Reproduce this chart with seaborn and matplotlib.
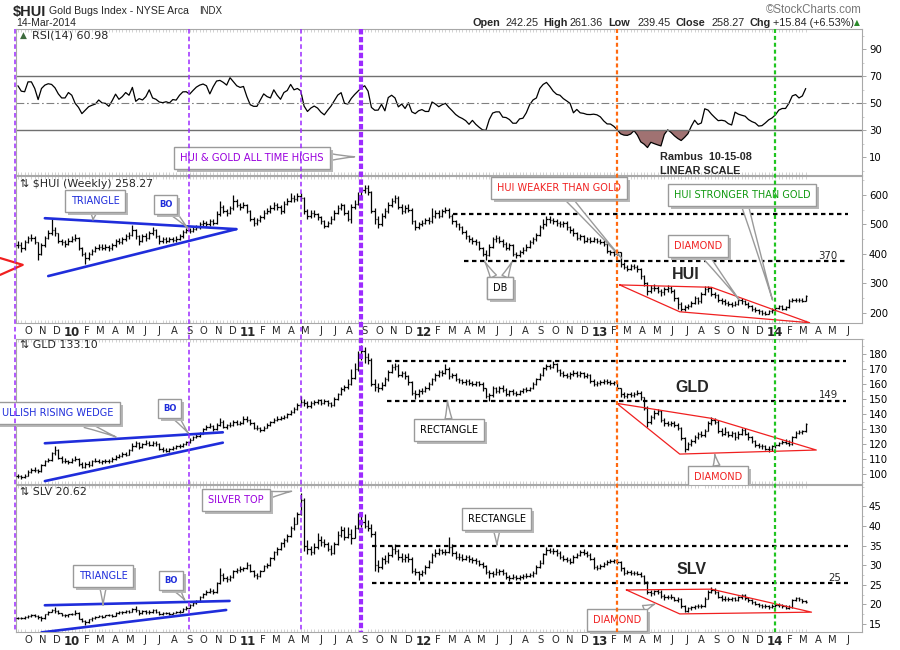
import datetime as dt

import matplotlib
matplotlib.use("Agg")
import matplotlib.dates as mdates
import matplotlib.patheffects as pe
import matplotlib.pyplot as plt
import numpy as np
import pandas as pd
import seaborn as sns
from matplotlib.lines import Line2D
from matplotlib.ticker import AutoMinorLocator, FixedLocator, MultipleLocator
from matplotlib.transforms import blended_transform_factory

sns.set_theme(style="white")
plt.rcParams["font.family"] = ["Liberation Sans", "DejaVu Sans"]

# weekly bars (Friday)
WEEKS = pd.date_range("2009-09-18", periods=235, freq="7D")

HUI_CLOSE = [
    430, 420, 440, 455, 455, 440, 400, 430, 455, 470,
    480, 470, 445, 440, 435, 445, 450, 455, 420, 400,
    385, 400, 410, 420, 425, 420, 425, 420, 430, 445,
    440, 450, 460, 465, 480, 460, 445, 460, 455, 470,
    480, 460, 445, 450, 445, 450, 448, 452, 460, 475,
    480, 478, 485, 490, 500, 505, 500, 510, 505, 535,
    560, 545, 540, 555, 580, 565, 560, 565, 545, 520,
    505, 515, 525, 540, 545, 555, 565, 560, 545, 570,
    580, 590, 585, 595, 590, 545, 530, 540, 535, 525,
    510, 495, 505, 520, 540, 555, 565, 540, 520, 560,
    570, 600, 615, 625, 610, 545, 520, 500, 530, 545,
    565, 580, 590, 560, 545, 555, 550, 510, 490, 500,
    505, 515, 510, 530, 540, 530, 545, 550, 530, 510,
    500, 490, 475, 460, 450, 445, 440, 420, 400, 395,
    425, 450, 455, 445, 435, 420, 430, 400, 395, 405,
    415, 425, 440, 450, 465, 490, 500, 520, 515, 510,
    505, 500, 505, 490, 480, 470, 455, 460, 445, 450,
    445, 450, 445, 440, 435, 410, 405, 400, 405, 365,
    355, 350, 360, 355, 350, 325, 300, 275, 285, 285,
    275, 270, 280, 285, 275, 250, 230, 215, 220, 225,
    235, 250, 240, 265, 280, 285, 265, 260, 245, 240,
    235, 230, 228, 232, 245, 240, 232, 225, 215, 210,
    205, 200, 198, 205, 210, 218, 222, 215, 220, 240,
    245, 243, 245, 242, 258.27,
]
HUI_HIGH = [
    445, 440, 448, 462, 468, 460, 442, 438, 462, 480,
    517, 492, 472, 452, 448, 455, 462, 468, 458, 425,
    405, 408, 418, 428, 435, 432, 434, 430, 438, 452,
    455, 458, 468, 475, 498, 485, 465, 468, 470, 478,
    492, 484, 465, 458, 456, 458, 456, 460, 466, 482,
    488, 488, 492, 498, 508, 515, 512, 520, 518, 545,
    580, 565, 552, 562, 600, 585, 572, 575, 570, 550,
    525, 522, 532, 548, 556, 565, 575, 572, 566, 578,
    590, 607, 598, 605, 605, 592, 552, 550, 548, 540,
    530, 515, 512, 528, 548, 565, 572, 570, 548, 568,
    582, 610, 625, 634, 632, 612, 555, 528, 538, 555,
    575, 590, 600, 595, 568, 565, 568, 555, 515, 508,
    515, 522, 525, 555, 548, 548, 552, 560, 555, 535,
    515, 505, 495, 480, 465, 458, 452, 445, 425, 412,
    432, 458, 465, 462, 450, 440, 438, 432, 408, 412,
    422, 432, 448, 458, 472, 498, 520, 530, 528, 522,
    518, 512, 512, 510, 495, 488, 475, 468, 465, 458,
    456, 456, 455, 452, 448, 440, 415, 412, 412, 408,
    372, 362, 366, 365, 362, 352, 330, 305, 295, 298,
    292, 282, 288, 295, 290, 280, 255, 236, 228, 232,
    242, 256, 255, 270, 290, 292, 288, 272, 265, 252,
    246, 242, 238, 240, 252, 250, 245, 236, 228, 220,
    214, 210, 206, 210, 216, 224, 228, 226, 225, 246,
    252, 250, 252, 250, 261.36,
]
HUI_LOW = [
    420, 408, 415, 436, 445, 432, 380, 398, 425, 450,
    465, 462, 438, 430, 425, 430, 440, 445, 412, 392,
    365, 378, 395, 405, 412, 412, 415, 410, 415, 425,
    432, 435, 445, 452, 460, 452, 430, 440, 445, 450,
    465, 455, 435, 438, 438, 440, 440, 442, 448, 455,
    470, 470, 474, 480, 485, 495, 492, 495, 498, 500,
    530, 538, 530, 535, 550, 558, 550, 555, 538, 512,
    495, 498, 508, 518, 535, 540, 550, 548, 535, 540,
    565, 575, 575, 580, 580, 535, 520, 522, 525, 515,
    500, 488, 490, 500, 515, 535, 550, 532, 512, 505,
    552, 565, 595, 605, 600, 538, 500, 488, 495, 522,
    540, 560, 572, 552, 535, 540, 542, 502, 480, 485,
    495, 500, 502, 505, 522, 522, 525, 540, 522, 502,
    492, 482, 468, 452, 442, 435, 430, 412, 392, 380,
    392, 420, 440, 436, 425, 412, 415, 392, 385, 390,
    400, 410, 420, 435, 445, 462, 485, 495, 505, 502,
    495, 490, 492, 482, 470, 462, 448, 448, 438, 440,
    438, 440, 436, 432, 428, 402, 398, 392, 395, 355,
    348, 342, 345, 348, 340, 315, 292, 262, 268, 275,
    268, 258, 262, 272, 268, 242, 215, 208, 208, 212,
    220, 230, 232, 235, 260, 272, 258, 252, 238, 232,
    228, 222, 220, 222, 228, 232, 226, 218, 208, 204,
    198, 194, 192, 195, 200, 206, 212, 210, 210, 218,
    236, 236, 238, 236, 239.45,
]

GLD_CLOSE = [
    98.5, 98, 99, 101.5, 103, 102.5, 102, 106, 108.5, 109.5,
    114, 116, 111, 109, 108.5, 108, 109.5, 110, 106.5, 105,
    107, 106, 108.5, 109, 108, 108.5, 109, 108.5, 110, 111.5,
    112, 113.5, 113, 116, 119, 120.5, 118, 120, 121, 119.5,
    121, 120, 117, 116, 115.5, 116.5, 117.5, 118.5, 119, 120,
    121.5, 123, 124.5, 125.5, 127, 130, 131.5, 132, 130, 133,
    134.5, 131.5, 132.5, 133, 135, 133.5, 134, 137, 136, 134,
    131, 130.5, 129.5, 131, 133, 134.5, 136, 137, 137.5, 138,
    140, 141.5, 143.5, 146, 148, 147, 145, 147.5, 148, 149,
    147.5, 148.5, 147, 146, 150, 153, 156.5, 158, 160, 164,
    170, 179, 182, 178, 176, 160, 158, 157, 159.5, 163,
    168, 171, 172, 166, 167, 165, 161, 154, 153, 155,
    155.5, 157, 160, 163, 166, 168, 167.5, 170, 165, 166,
    163, 162.5, 161, 162, 160.5, 160, 161, 160, 157, 152,
    152.5, 157, 155, 157.5, 156, 153, 155, 154, 153.5, 155,
    156.5, 156, 157, 160, 163, 166, 170.5, 172, 171.5, 173,
    169, 167, 166, 165, 166.5, 167.5, 166, 167, 165.5, 166,
    162, 160, 160.5, 161, 162, 161.5, 160.5, 161, 157, 153,
    152, 153, 152.5, 153.5, 154, 151, 144, 135, 138, 141,
    142, 136, 134, 133.5, 134, 133, 131, 124, 117, 120,
    122, 124.5, 127, 126, 129, 134, 136, 135, 128.5, 127,
    128, 126, 127.5, 124.5, 127, 129.5, 127, 124.5, 122, 119.5,
    119, 118.5, 117, 116.5, 118.5, 119.5, 120.5, 121.5, 121, 120,
    124.5, 127.5, 128, 128.5, 133.1,
]
GLD_HIGH = [
    99.8, 99.5, 100.2, 102.5, 104.2, 104.5, 103.6, 106.8, 109.5, 111,
    115, 118.5, 117, 112.2, 110.5, 109.6, 110.4, 111.8, 111, 107.8,
    107.8, 108.5, 109.4, 110.5, 110.2, 109.4, 110.3, 110, 111.2, 112.5,
    113.4, 114.5, 114.8, 117, 120.5, 121.8, 121.5, 121, 122.4, 122,
    122.3, 122, 120.6, 118, 117.2, 117.6, 118.5, 119.5, 120.2, 121,
    122.3, 124, 125.5, 126.6, 128, 131, 132.8, 134, 133, 134,
    137.6, 136, 133.6, 134.4, 136.2, 136, 135.4, 139, 138.4, 137,
    134.8, 132.4, 131.6, 132.2, 134, 135.6, 137.2, 138.4, 138.8, 139.4,
    141, 142.6, 144.5, 147, 152, 150, 148.4, 148.6, 149.4, 150.2,
    150, 149.8, 149.4, 148.2, 151, 154.2, 157.8, 159.4, 163, 170,
    174, 182, 186, 184.5, 180.5, 177, 163, 160.4, 161, 164.5,
    169.4, 173.6, 174, 173, 168.6, 168.4, 166, 162, 155.8, 156.4,
    157, 158.4, 161.2, 164, 167.4, 169.6, 169.4, 173.5, 171, 167.6,
    167, 164.2, 163.6, 163.4, 163, 161.8, 162.2, 162, 161, 157.6,
    154, 158.4, 158.2, 158.6, 159, 157, 156.2, 156.4, 155.2, 156,
    157.6, 157.8, 158.2, 161, 164.2, 167, 171.6, 173.4, 173.6, 175,
    174, 170.2, 168.4, 167.4, 167.8, 169, 168.6, 168.4, 168.2, 167.4,
    166.8, 163.4, 161.8, 162.4, 163.2, 163.4, 162.6, 162.2, 161.6, 157.4,
    154.4, 154.2, 154.4, 154.8, 155.8, 155.4, 151.6, 145, 139.6, 142.4,
    143.6, 142.8, 137.2, 135.6, 135.6, 135.2, 134, 131.6, 124.8, 121.2,
    123.2, 125.8, 128, 128.4, 130.2, 135.2, 137.8, 137.4, 135.8, 130.4,
    131.6, 129, 128.8, 128.2, 128.4, 130.8, 130.4, 127.8, 125.4, 122.8,
    121, 120.2, 119.4, 118.4, 119.6, 120.6, 121.6, 122.6, 123.6, 122.4,
    125.4, 128.4, 129.4, 129.6, 134,
]
GLD_LOW = [
    97.2, 96.8, 97.5, 98.6, 100.8, 101.6, 100.9, 101.5, 105.4, 107.8,
    109, 113, 110, 107.6, 107.2, 106.8, 107.4, 108.8, 105.5, 103.8,
    104, 104.8, 105.6, 107.8, 107.2, 107, 107.6, 107.4, 107.8, 109.4,
    110.8, 111.2, 112, 112.6, 115.4, 118, 116.8, 117.2, 119.2, 118.6,
    118.8, 119, 116, 114.8, 114.6, 114.8, 115.8, 116.8, 117.6, 118.2,
    119.4, 120.8, 122.4, 123.8, 124.8, 126.4, 129.4, 130.5, 128.8, 129.4,
    132.2, 130.4, 130.2, 131.4, 132.2, 132.4, 132.6, 133.4, 134.8, 132.8,
    130, 129.2, 128.2, 128.8, 130.4, 132.2, 133.8, 135.2, 135.8, 136.6,
    137.2, 139.2, 140.8, 142.8, 145.2, 145.5, 143.8, 144.2, 146.2, 146.8,
    146.2, 146.4, 145.6, 144.8, 145.4, 149.2, 152.4, 155.2, 156.4, 159.2,
    163, 168.6, 176, 174.2, 173.6, 158.5, 155.6, 154.8, 155.8, 158.6,
    162.2, 167.2, 169.6, 164.8, 164.6, 163.6, 159.6, 152.6, 150, 151.6,
    153.6, 154.4, 156.2, 159.2, 162.2, 164.8, 165.6, 166.4, 163.4, 163.8,
    161.8, 160.8, 159.8, 159.6, 159.2, 158.6, 158.8, 158.6, 155.6, 150.6,
    148.5, 151.6, 153.8, 154.2, 154.8, 151.8, 152, 152.8, 152.2, 152.6,
    154, 154.6, 155, 156.4, 159.2, 162.4, 165.4, 169.6, 170.2, 170.4,
    167.8, 165.6, 164.6, 163.8, 163.6, 165.4, 164.8, 164.8, 164.2, 164.2,
    160.8, 158.6, 158.8, 159.4, 159.8, 160.2, 159.2, 159.4, 155.8, 151.6,
    150.6, 150.8, 151.2, 151.6, 152.4, 149.4, 142.8, 131.5, 133.4, 136.8,
    139.4, 134.6, 132.2, 131.8, 132, 131.6, 129.4, 122.4, 114.6, 115.8,
    118.6, 120.8, 123.2, 124.6, 124.8, 128.4, 133, 133.6, 127.2, 125.6,
    125.8, 124.6, 124.8, 122.8, 123.2, 126, 125.8, 123, 120.8, 118.2,
    117.6, 116.4, 115.8, 114.6, 115.4, 117.4, 118.6, 119.8, 120, 118.8,
    119.6, 123.8, 126.6, 127, 128,
]

SLV_CLOSE = [
    16.6, 16.5, 16.9, 17, 17.2, 17.1, 16.8, 16.5, 17.5, 18.2,
    18.5, 18.3, 17.8, 17.4, 17.2, 17.5, 17.6, 17.8, 16.4, 15.8,
    15.5, 16.2, 16.5, 16.9, 17.1, 16.9, 17.2, 17.3, 17.1, 17.8,
    18.1, 18, 18.4, 18.2, 18.8, 18.5, 17.8, 18.3, 18.1, 18,
    18.6, 18.2, 17.6, 17.9, 17.8, 17.7, 17.9, 18.1, 18.2, 18.9,
    19.2, 19.8, 20.4, 20.9, 21.8, 22.7, 23.2, 23.5, 23.2, 25.4,
    27.5, 26.8, 26.4, 27, 28.5, 28.9, 29.1, 29.3, 30, 28.5,
    27.6, 27.2, 28.6, 29.7, 30, 31.8, 33.3, 34, 35.6, 36.4,
    37.5, 39.5, 40.6, 43, 46.5, 35, 34.2, 33.4, 34.5, 36.5,
    35.8, 35.5, 34, 33.2, 35.5, 37.8, 39, 37.2, 38, 37,
    39.5, 40.6, 41, 40, 39.5, 38, 30, 29.5, 31.5, 31,
    32.5, 34, 33.5, 32, 31.5, 32, 31.5, 28.5, 28.2, 27.8,
    28.2, 29.5, 30.8, 32.5, 33.2, 33.8, 33.4, 33.3, 34.5, 33,
    32, 32.2, 31.6, 32, 31.5, 31.4, 31, 30.2, 29.8, 28.3,
    28, 27.8, 28.2, 28.6, 28, 26.9, 26.8, 27.1, 26.7, 26.9,
    27.2, 27.2, 27.5, 28, 29.6, 30.5, 32.8, 33.8, 33.6, 33.5,
    33.2, 32.2, 31.6, 31.4, 30.8, 32.2, 32.5, 33.3, 33.1, 32.6,
    31.7, 29.5, 29.3, 29.8, 30.2, 30.8, 31.1, 31.2, 30.8, 29.2,
    28, 28.3, 28, 28.1, 27.8, 27.3, 25.8, 23.3, 22.8, 23.4,
    23.2, 22.2, 21.8, 22, 21.8, 21.2, 21.4, 19.5, 18.4, 19.1,
    19.3, 19.5, 19.7, 19.6, 21.5, 23.2, 23.8, 23.2, 22, 21.5,
    21.4, 21.3, 21.6, 21.2, 21.8, 22.4, 21.6, 21.1, 20.6, 20.2,
    19.8, 19.6, 19.5, 19.4, 19.6, 19.8, 19.9, 19.6, 19.2, 19.4,
    21.2, 21.6, 21.3, 20.8, 20.62,
]
SLV_HIGH = [
    16.9, 16.9, 17.1, 17.3, 17.6, 17.6, 17.3, 17, 17.7, 18.4,
    18.9, 19.3, 18.6, 17.9, 17.6, 17.7, 17.9, 18.5, 18, 16.6,
    16, 16.4, 16.7, 17.1, 17.3, 17.3, 17.4, 17.6, 17.5, 18,
    18.4, 18.4, 18.6, 18.7, 19.2, 19.6, 18.7, 18.5, 18.6, 18.5,
    18.9, 18.8, 18.3, 18.1, 18.2, 18, 18.1, 18.4, 18.5, 19.1,
    19.5, 20, 20.6, 21.2, 22.1, 23, 23.6, 24.2, 23.9, 25.7,
    29.2, 28, 27.2, 27.4, 28.9, 29.4, 29.8, 29.6, 30.7, 30.4,
    28.9, 28, 28.9, 30, 30.6, 32.2, 33.6, 34.5, 36, 37,
    38, 40, 42.2, 43.6, 48.3, 47, 36.4, 35, 35.6, 38.2,
    37.3, 36.6, 36, 35.2, 36, 38.8, 40, 39.6, 39.8, 39.2,
    40.2, 43.4, 42.4, 43, 41.4, 40.4, 38.6, 31.2, 32, 32.6,
    33.4, 35, 35.4, 34.2, 33, 32.8, 33, 32, 29.4, 28.6,
    28.8, 30, 31.2, 33, 34, 34.4, 34.2, 34, 37.2, 35.4,
    33.6, 33, 32.8, 32.5, 32.6, 32, 31.8, 31.4, 30.8, 30,
    28.8, 28.6, 29.2, 29.1, 29, 28.3, 27.6, 27.7, 27.4, 27.6,
    27.8, 27.9, 28, 28.5, 30, 31.2, 33.2, 34.6, 34.4, 34.4,
    34.1, 33.6, 32.6, 32.2, 31.8, 32.6, 33, 33.8, 34.2, 33.6,
    33, 32, 30, 30.2, 30.8, 31.3, 31.6, 31.7, 31.5, 31,
    29.5, 28.8, 28.7, 28.6, 28.5, 28.2, 27.6, 26, 23.6, 23.8,
    23.9, 23.6, 22.6, 22.5, 22.6, 22, 21.9, 21.6, 19.8, 19.4,
    19.7, 19.9, 20.1, 20.2, 21.8, 23.6, 24.4, 24.2, 23.5, 22.4,
    22.2, 21.9, 22, 22, 22.2, 22.7, 22.6, 21.9, 21.4, 20.9,
    20.4, 20.2, 20.1, 19.9, 20, 20.3, 20.3, 20.2, 19.8, 19.8,
    21.4, 22, 21.8, 21.4, 21.1,
]
SLV_LOW = [
    16.2, 16.2, 16.3, 16.6, 16.8, 16.8, 16.4, 15.9, 16.4, 17.3,
    18, 17.9, 17.5, 17, 16.8, 16.9, 17.2, 17.4, 16.2, 15.5,
    14.8, 15.2, 15.9, 16.3, 16.7, 16.6, 16.7, 17, 16.8, 17,
    17.6, 17.5, 17.8, 17.8, 18, 18.2, 17.2, 17.5, 17.7, 17.7,
    17.9, 17.9, 17.4, 17.3, 17.5, 17.4, 17.5, 17.8, 17.9, 18.1,
    18.7, 19, 19.6, 20.2, 20.7, 21.6, 22.4, 22.9, 22.6, 23,
    25.2, 25.9, 25.6, 26, 26.8, 28, 28.3, 28.6, 29, 28.2,
    26.9, 26.5, 27, 28.4, 29.2, 29.8, 31.4, 32.6, 33.8, 34.6,
    35.8, 37.2, 39, 40.4, 42.8, 33.5, 32.8, 32.6, 32.8, 34.2,
    35, 34.6, 33.6, 32.6, 32.8, 35.2, 37.2, 36.4, 36.8, 35.4,
    36.8, 39.2, 39.6, 39.4, 38.6, 37.2, 28.5, 28.2, 29, 30.2,
    30.6, 32, 32.8, 31.4, 30.8, 30.8, 30.8, 28, 27.4, 26.2,
    27.2, 27.8, 29.2, 30.5, 32.2, 32.6, 32.8, 32.6, 33, 32.4,
    31.6, 31.4, 31, 31.2, 30.8, 30.6, 30.4, 29.8, 29.2, 27.8,
    26.8, 26.9, 27.4, 27.6, 27.4, 26.4, 26.1, 26.4, 26.2, 26.3,
    26.5, 26.7, 26.9, 27.1, 27.8, 29.3, 30.3, 32.5, 33, 32.9,
    32.4, 31.7, 31.1, 30.8, 30.4, 30.6, 31.8, 32.3, 32.6, 32.1,
    31.3, 29.1, 28.9, 29, 29.6, 30, 30.5, 30.6, 30.3, 28.6,
    27.6, 27.7, 27.6, 27.6, 27.4, 26.9, 25.3, 22.6, 22.1, 22.3,
    22.6, 21.6, 21.2, 21.3, 21.3, 20.8, 20.6, 19.2, 18, 18.2,
    18.7, 18.9, 19.1, 19.2, 19.4, 21.3, 22.8, 22.6, 21.6, 20.9,
    20.8, 20.8, 20.9, 20.8, 21, 21.5, 21.2, 20.7, 20.2, 19.8,
    19.4, 19.2, 19.1, 18.9, 19.1, 19.3, 19.4, 19.2, 18.8, 18.8,
    19.2, 20.9, 20.9, 20.5, 20.3,
]

RSI14 = [
    63, 59, 58.6, 65.9, 65.9, 61, 52.8, 61, 63.5, 64.5,
    64, 61.5, 57, 54, 54, 58, 56, 50, 47, 42.4,
    45, 47.5, 48.6, 49.5, 52.5, 50.3, 50, 47.8, 52, 56.8,
    53, 55, 58, 56, 61.8, 51.5, 53.5, 52.5, 55, 60,
    54, 53, 51, 50.5, 51.2, 50.3, 52.8, 52.4, 56, 58.5,
    58.6, 56.8, 59.5, 62, 63.5, 64.3, 63, 57, 62.3, 66.5,
    67, 65.5, 63.5, 69, 66, 63, 61.8, 62.5, 55, 49,
    47.8, 47.8, 52.5, 57, 55, 54, 60, 56, 53, 58,
    59.5, 64, 60, 61, 59.3, 48, 44, 46.5, 48, 46.5,
    43.5, 41.5, 44.9, 48, 52, 56.1, 57.9, 50, 49.5, 53.6,
    56.5, 59, 61.5, 63, 59, 47, 44.9, 45, 49.3, 44.5,
    54.3, 56, 54, 47.4, 49.5, 46.2, 50.5, 43.7, 42.4, 44.5,
    45.4, 44, 44, 51, 49.5, 47.5, 49, 50, 47, 44.5,
    41.8, 40, 38.8, 37.2, 34.5, 37.4, 34.5, 32.3, 30.4, 30,
    38, 42.8, 43.7, 43.7, 39.8, 39.5, 38, 35.3, 35.3, 38.5,
    39, 43, 49, 52.5, 54, 61, 64, 65.5, 62.5, 59,
    56.7, 56, 53.5, 51.8, 50, 43, 45.5, 43, 42.6, 41.8,
    41.7, 42, 41.5, 40, 37, 34.8, 34.7, 33, 30.5, 27.5,
    26.5, 26.3, 27.3, 29.8, 26.5, 21.5, 19.8, 17.3, 21.2, 20.2,
    19.3, 18.5, 27, 30.4, 28.5, 26, 24, 22.5, 24.8, 27.5,
    33, 37.5, 34.4, 35.5, 46, 45, 42, 39.5, 37.2, 37.5,
    37, 35, 34, 43.5, 42, 41.2, 40.5, 38, 36.5, 35.5,
    33.2, 33.5, 35.5, 37.8, 39.2, 41.5, 45, 46.2, 46.2, 50,
    55.5, 56.5, 54, 55.5, 60.98,
]

# support / resistance levels drawn on the chart
HUI_LEVELS = [535, 377]
GLD_LEVELS = [175, 148.5]
SLV_LEVELS = [34.8, 25.5]

MONTHS = pd.date_range("2009-10-01", "2014-06-01", freq="MS")
X0, X1 = mdates.date2num(dt.datetime(2009, 9, 14)), mdates.date2num(dt.datetime(2014, 7, 9))
XN = mdates.date2num(WEEKS)

PURPLE = "#9d2bff"
ORANGE = "#ff6a10"
GREEN = "#1fc41f"
BLUE = "#1f2ddb"
RED = "#f02020"
SMALL = "DejaVu Sans"
SHADOW = [pe.withSimplePatchShadow(offset=(2.2, -2.2), shadow_rgbFace="#b8b8b8", alpha=1.0)]


def d(y, m, day):
    return mdates.date2num(dt.datetime(y, m, day))


fig = plt.figure(figsize=(9, 6.5), dpi=100)
fig.patch.set_facecolor("white")


def add_panel(top_px, bottom_px):
    ax = fig.add_axes([16 / 900, 1 - bottom_px / 650, 846 / 900, (bottom_px - top_px) / 650])
    ax.set_facecolor("white")
    for s in ax.spines.values():
        s.set_color("#a8a8a8")
        s.set_linewidth(0.8)
    ax.yaxis.tick_right()
    ax.yaxis.set_minor_locator(AutoMinorLocator(2))
    ax.tick_params(axis="y", which="major", direction="out", length=3, width=0.6,
                   color="#999999", labelsize=7.3, labelcolor="black", pad=2,
                   labelfontfamily=SMALL)
    ax.tick_params(axis="y", which="minor", direction="out", length=1.5, width=0.5, color="#bbbbbb")
    ax.set_xticks([])
    ax.xaxis.set_minor_locator(FixedLocator(XN))
    ax.tick_params(axis="x", which="minor", direction="in", length=2, width=0.5,
                   color="#c0c0c0", top=True, bottom=True)
    ax.grid(False)
    return ax


def month_axis(ax):
    ax.set_xticks(mdates.date2num(MONTHS + pd.Timedelta(days=8)))
    labels = [f"{m.year % 100:02d}" if m.month == 1 else m.strftime("%b")[0] for m in MONTHS]
    ax.set_xticklabels(labels)
    ax.tick_params(axis="x", which="major", length=0, pad=2.5, labelsize=7.2, labelfontfamily=SMALL)
    for lab, m in zip(ax.get_xticklabels(), MONTHS):
        if m.month == 1:
            lab.set_fontweight("bold")
            lab.set_fontsize(8.5)


def ohlc(ax, hi, lo, cl):
    cl = np.asarray(cl, float)
    op = np.r_[cl[0], cl[:-1]]
    hi = np.maximum.reduce([np.asarray(hi, float), op, cl])
    lo = np.minimum.reduce([np.asarray(lo, float), op, cl])
    ax.vlines(XN, lo, hi, color="black", lw=0.9, zorder=3)
    ax.hlines(op, XN - 3, XN, color="black", lw=0.9, zorder=3)
    ax.hlines(cl, XN, XN + 3, color="black", lw=0.9, zorder=3)


def levels(ax, vals, start, end):
    for v in vals:
        ax.plot([start, end], [v, v], color="black", lw=1.6, dashes=(2, 1.6), zorder=4)


def path(ax, pts, color, lw, **kw):
    ax.plot([p[0] for p in pts], [p[1] for p in pts], color=color, lw=lw,
            solid_capstyle="round", zorder=4, **kw)


def callout(ax, text, box, tip, color, size=7, bold=False, ha="center"):
    ann = ax.annotate(text, xy=tip, xycoords="data", xytext=box, textcoords="axes fraction",
                      ha=ha, va="center", fontsize=size, color=color, family=SMALL,
                      fontweight="bold" if bold else "normal",
                      bbox=dict(boxstyle="square,pad=0.6", fc="white", ec="#9a9a9a", lw=1.0),
                      arrowprops=dict(arrowstyle="wedge,tail_width=0.7,shrink_factor=0.4",
                                      fc="white", ec="#9a9a9a", lw=1.0, shrinkA=0, shrinkB=0),
                      annotation_clip=False, zorder=7)
    ann.get_bbox_patch().set_path_effects(SHADOW)
    return ann


ax_rsi = add_panel(29, 175)
ax_hui = add_panel(176, 323)
ax_gld = add_panel(338.5, 483.5)
ax_slv = add_panel(485, 632)

# ---- RSI ----
rsi = np.asarray(RSI14, float)
sns.lineplot(x=XN, y=rsi, ax=ax_rsi, color="black", linewidth=0.9, sort=False)
ax_rsi.fill_between(XN, rsi, 30, where=rsi < 30, interpolate=True, color="#a07272", lw=0)
ax_rsi.axhline(70, color="#707070", lw=1.0)
ax_rsi.axhline(30, color="#707070", lw=1.0)
ax_rsi.axhline(50, color="#808080", lw=0.8, dashes=(7, 2.5, 1.5, 2.5))
ax_rsi.set_ylim(-3, 105)
ax_rsi.set_yticks([10, 30, 50, 70, 90])
ax_rsi.yaxis.set_minor_locator(MultipleLocator(10))
ax_rsi.set_xlabel("")
ax_rsi.set_ylabel("")
ax_rsi.text(0.005, 0.955, "\u25b2", transform=ax_rsi.transAxes, fontsize=6.5, color="#3d6b3d",
            va="center", family=SMALL)
ax_rsi.text(0.019, 0.955, "RSI(14) 60.98", transform=ax_rsi.transAxes, fontsize=8,
            va="center", family=SMALL)
callout(ax_rsi, "HUI & GOLD ALL TIME HIGHS", (0.279, 0.116), (d(2011, 8, 19), 10.5), "#9900dd",
        size=7.2)
ax_rsi.text(0.761, 0.122, "Rambus  10-15-08", transform=ax_rsi.transAxes, fontsize=7.8,
            fontweight="bold", va="center")
ax_rsi.text(0.761, 0.027, "LINEAR SCALE", transform=ax_rsi.transAxes, fontsize=7.8,
            fontweight="bold", va="center")

# ---- HUI ----
ohlc(ax_hui, HUI_HIGH, HUI_LOW, HUI_CLOSE)
ax_hui.set_ylim(166, 664)
ax_hui.set_yticks([200, 300, 400, 500, 600])
month_axis(ax_hui)
ax_hui.plot([d(2012, 3, 10), d(2014, 6, 9)], [HUI_LEVELS[0]] * 2, color="black", lw=1.6,
            dashes=(2, 1.6), zorder=4)
ax_hui.plot([d(2012, 4, 3), d(2014, 6, 9)], [HUI_LEVELS[1]] * 2, color="black", lw=1.6,
            dashes=(2, 1.6), zorder=4)
path(ax_hui, [(d(2009, 11, 13), 521), (d(2010, 12, 16), 484)], BLUE, 1.9)
path(ax_hui, [(d(2009, 11, 20), 325), (d(2010, 12, 16), 484)], BLUE, 1.9)
path(ax_hui, [(d(2013, 2, 20), 295), (d(2013, 8, 30), 287), (d(2014, 3, 22), 167),
              (d(2013, 6, 25), 204), (d(2013, 2, 20), 295)], RED, 0.9)
ax_hui.plot([d(2009, 8, 12), d(2009, 9, 28), d(2009, 8, 12)], [386, 363, 329],
            color=RED, lw=1.6, clip_on=False, zorder=5)
ax_hui.text(0.005, 0.946, "\u21c5 $HUI (Weekly) 258.27", transform=ax_hui.transAxes,
            fontsize=7.9, va="center", family=SMALL)
callout(ax_hui, "TRIANGLE", (0.0934, 0.830), (d(2010, 2, 21), 515), BLUE)
callout(ax_hui, "BO", (0.1767, 0.806), (d(2010, 9, 6), 488), BLUE, size=6, bold=True)
callout(ax_hui, "HUI WEAKER THAN GOLD", (0.642, 0.918), (d(2013, 2, 24), 386), RED)
callout(ax_hui, "HUI STRONGER THAN GOLD", (0.858, 0.871), (d(2014, 1, 4), 244), "#119911")
callout(ax_hui, "DIAMOND", (0.806, 0.524), (d(2013, 10, 27), 244), RED)
callout(ax_hui, "DB", (0.572, 0.238), (d(2012, 5, 16), 373), "black")
callout(ax_hui, "DB", (0.572, 0.238), (d(2012, 7, 11), 373), "black")
ax_hui.text(0.792, 0.327, "HUI", transform=ax_hui.transAxes, fontsize=11.5, fontweight="bold",
            ha="center", va="center")
ax_hui.text(0.960, 0.456, "370", transform=ax_hui.transAxes, fontsize=7.3, ha="center",
            va="center", family=SMALL)

# ---- GLD ----
ohlc(ax_gld, GLD_HIGH, GLD_LOW, GLD_CLOSE)
ax_gld.set_ylim(93.7, 190.3)
ax_gld.set_yticks(list(range(100, 181, 10)))
levels(ax_gld, GLD_LEVELS, d(2011, 10, 26), d(2014, 6, 5))
path(ax_gld, [(d(2009, 11, 13), 120.5), (d(2010, 11, 18), 127.8)], BLUE, 1.9)
path(ax_gld, [(d(2009, 11, 13), 95.3), (d(2010, 11, 18), 120.9)], BLUE, 1.9)
path(ax_gld, [(d(2013, 2, 14), 147.1), (d(2013, 8, 30), 137.1), (d(2014, 4, 5), 116),
              (d(2013, 6, 25), 113.3), (d(2013, 2, 14), 147.1)], RED, 0.9)
ax_gld.text(0.005, 0.955, "\u21c5 GLD 133.10", transform=ax_gld.transAxes, fontsize=7.9,
            va="center", family=SMALL)
callout(ax_gld, "ULLISH RISING WEDGE", (-0.016, 0.486), (d(2010, 4, 10), 124.7), BLUE, ha="left")
callout(ax_gld, "BO", (0.1814, 0.517), (d(2010, 9, 7), 127.3), BLUE, size=6, bold=True)
callout(ax_gld, "RECTANGLE", (0.512, 0.369), (d(2012, 2, 28), 149), "black")
callout(ax_gld, "DIAMOND", (0.830, 0.045), (d(2013, 9, 6), 113), RED)
ax_gld.text(0.799, 0.659, "GLD", transform=ax_gld.transAxes, fontsize=11.5, fontweight="bold",
            ha="center", va="center")
ax_gld.text(0.960, 0.610, "149", transform=ax_gld.transAxes, fontsize=7.3, ha="center",
            va="center", family=SMALL)

# ---- SLV ----
ohlc(ax_slv, SLV_HIGH, SLV_LOW, SLV_CLOSE)
ax_slv.set_ylim(13.0, 50.4)
ax_slv.set_yticks([15, 20, 25, 30, 35, 40, 45])
month_axis(ax_slv)
levels(ax_slv, SLV_LEVELS, d(2011, 9, 25), d(2014, 6, 9))
path(ax_slv, [(d(2009, 11, 13), 19.8), (d(2010, 12, 2), 20.9)], BLUE, 1.9)
path(ax_slv, [(d(2009, 11, 6), 12.9), (d(2010, 11, 25), 18.6)], BLUE, 1.9)
path(ax_slv, [(d(2013, 3, 6), 23.7), (d(2013, 8, 30), 23.9), (d(2014, 3, 26), 18.05),
              (d(2013, 6, 25), 17.6), (d(2013, 3, 6), 23.7)], RED, 0.9)
ax_slv.text(0.005, 0.952, "\u21c5 SLV 20.62", transform=ax_slv.transAxes, fontsize=7.9,
            va="center", family=SMALL)
callout(ax_slv, "SILVER TOP", (0.260, 0.898), (d(2011, 4, 10), 48.8), "#9900dd")
callout(ax_slv, "TRIANGLE", (0.1028, 0.381), (d(2010, 3, 14), 19.8), BLUE)
callout(ax_slv, "BO", (0.183, 0.350), (d(2010, 8, 31), 21.1), BLUE, size=6, bold=True)
callout(ax_slv, "RECTANGLE", (0.568, 0.769), (d(2012, 6, 10), 35.1), "black")
callout(ax_slv, "DIAMOND", (0.710, 0.082), (d(2013, 5, 4), 20.1), RED)
ax_slv.text(0.799, 0.422, "SLV", transform=ax_slv.transAxes, fontsize=11.5, fontweight="bold",
            ha="center", va="center")
ax_slv.text(0.968, 0.367, "25", transform=ax_slv.transAxes, fontsize=7.3, ha="center",
            va="center", family=SMALL)

for ax in (ax_rsi, ax_hui, ax_gld, ax_slv):
    ax.set_xlim(X0, X1)

# ---- vertical event lines through all panels ----
trans = blended_transform_factory(ax_rsi.transData, fig.transFigure)
EVENTS = [
    (d(2009, 9, 11), PURPLE, 1.1, (3, 2)),
    (d(2010, 9, 8), PURPLE, 1.1, (3, 2)),
    (d(2011, 4, 29), PURPLE, 1.1, (3, 2)),
    (d(2011, 9, 1), PURPLE, 3.0, (1.3, 0.6)),
    (d(2013, 2, 14), ORANGE, 1.6, (1.8, 1.3)),
    (d(2014, 1, 9), GREEN, 1.6, (1.8, 1.3)),
]
for xv, col, lw, dash in EVENTS:
    fig.add_artist(Line2D([xv, xv], [1 - 29 / 650, 1 - 632 / 650], transform=trans,
                          color=col, lw=lw, dashes=dash, clip_on=False, zorder=5))

# ---- header ----
fig.text(13 / 900, 1 - 12 / 650, "$HUI", fontsize=10.5, fontweight="bold", va="center")
fig.text(49 / 900, 1 - 11 / 650, "Gold Bugs Index - NYSE Arca", fontsize=7.6, va="center")
fig.text(199 / 900, 1 - 11 / 650, "INDX", fontsize=7, va="center")
fig.text(16 / 900, 1 - 23 / 650, "14-Mar-2014", fontsize=7.5, va="center")
fig.text(862 / 900, 1 - 10 / 650, "\u00a9StockCharts.com", fontsize=8.3, color="#777777",
         ha="right", va="center")
header = [(472, "Open", True), (505, "242.25", False), (543, "High", True), (570, "261.36", False),
          (608, "Low", True), (637, "239.45", False), (675, "Close", True), (711, "258.27", False),
          (749, "Chg", True), (773, "+15.84 (+6.53%)", False)]
for px, txt, bold in header:
    fig.text(px / 900, 1 - 23 / 650, txt, fontsize=7.8, va="center",
             fontweight="bold" if bold else "normal")
fig.text(854 / 900, 1 - 23 / 650, "\u25b2", fontsize=5.5, color="#2a8a2a", va="center", family=SMALL)

fig.savefig("out.png", dpi=100, facecolor="white")
